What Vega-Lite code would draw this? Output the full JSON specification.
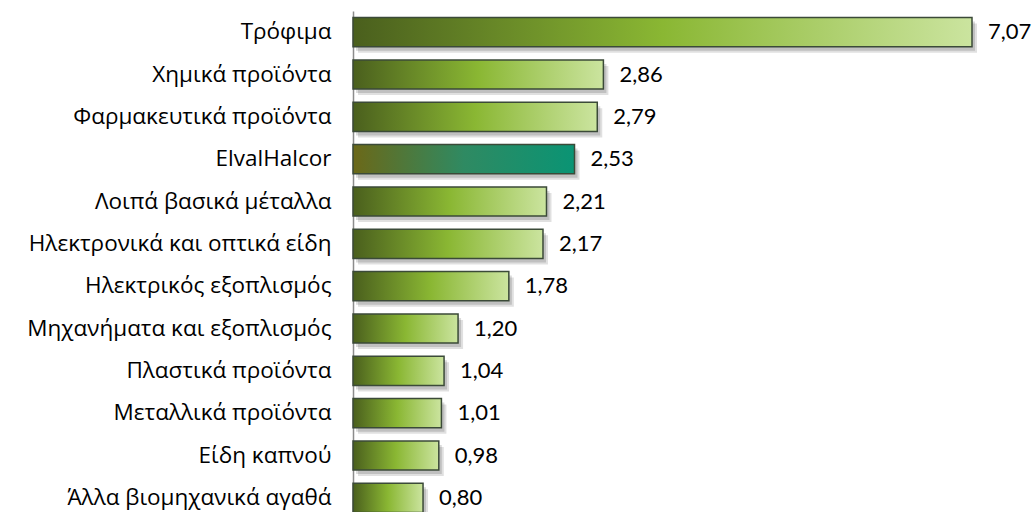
{
  "$schema": "https://vega.github.io/schema/vega-lite/v6.json",
  "width": 619,
  "height": 508,
  "autosize": {"type": "none"},
  "padding": {"left": 353, "top": 11, "right": 63, "bottom": 0},
  "background": "white",
  "config": {
    "view": {"stroke": null},
    "locale": {"number": {"decimal": ",", "thousands": ".", "grouping": [3], "currency": ["", " €"]}},
    "font": "Open Sans"
  },
  "data": {
    "values": [
      {"cat": "Τρόφιμα", "v": 7.07},
      {"cat": "Χημικά προϊόντα", "v": 2.86},
      {"cat": "Φαρμακευτικά προϊόντα", "v": 2.79},
      {"cat": "ElvalHalcor", "v": 2.53},
      {"cat": "Λοιπά βασικά μέταλλα", "v": 2.21},
      {"cat": "Ηλεκτρονικά και οπτικά είδη", "v": 2.17},
      {"cat": "Ηλεκτρικός εξοπλισμός", "v": 1.78},
      {"cat": "Μηχανήματα και εξοπλισμός", "v": 1.20},
      {"cat": "Πλαστικά προϊόντα", "v": 1.04},
      {"cat": "Μεταλλικά προϊόντα", "v": 1.01},
      {"cat": "Είδη καπνού", "v": 0.98},
      {"cat": "Άλλα βιομηχανικά αγαθά", "v": 0.80}
    ]
  },
  "encoding": {
    "y": {
      "field": "cat", "type": "nominal", "sort": null,
      "scale": {"paddingInner": 0.31, "paddingOuter": 0.155},
      "axis": {
        "title": null, "ticks": false, "labelPadding": 22, "labelLimit": 0,
        "labelFontSize": 22.5, "labelColor": "#000000", "labelFont": "Open Sans",
        "domainColor": "#8c8c8c", "domainWidth": 1.5, "grid": false
      }
    },
    "x": {
      "field": "v", "type": "quantitative",
      "scale": {"domain": [0, 7.07], "nice": false},
      "axis": null
    }
  },
  "layer": [
    {
      "mark": {"type": "bar", "color": "#000000", "opacity": 0.12, "xOffset": 5, "yOffset": 6},
      "encoding": {}
    },
    {
      "mark": {"type": "bar", "color": "#000000", "opacity": 0.14, "xOffset": 3, "yOffset": 4},
      "encoding": {}
    },
    {
      "transform": [{"filter": "datum.cat !== 'ElvalHalcor'"}],
      "mark": {
        "type": "bar",
        "stroke": "#3b4a38",
        "strokeWidth": 1.5,
        "fill": {
          "gradient": "linear", "x1": 0, "y1": 0, "x2": 1, "y2": 0,
          "stops": [
            {"offset": 0, "color": "#4a5f1d"},
            {"offset": 0.5, "color": "#8ab733"},
            {"offset": 1, "color": "#cbe49f"}
          ]
        }
      },
      "encoding": {}
    },
    {
      "transform": [{"filter": "datum.cat === 'ElvalHalcor'"}],
      "mark": {
        "type": "bar",
        "stroke": "#3b4a38",
        "strokeWidth": 1.5,
        "fill": {
          "gradient": "linear", "x1": 0, "y1": 0, "x2": 1, "y2": 0,
          "stops": [
            {"offset": 0, "color": "#6b6818"},
            {"offset": 0.5, "color": "#2f8a62"},
            {"offset": 1, "color": "#0a9474"}
          ]
        }
      },
      "encoding": {}
    },
    {
      "mark": {"type": "text", "align": "left", "baseline": "middle", "dx": 16, "fontSize": 22, "color": "#000000", "font": "Lato"},
      "encoding": {"text": {"field": "v", "type": "quantitative", "format": ".2f"}}
    }
  ]
}
